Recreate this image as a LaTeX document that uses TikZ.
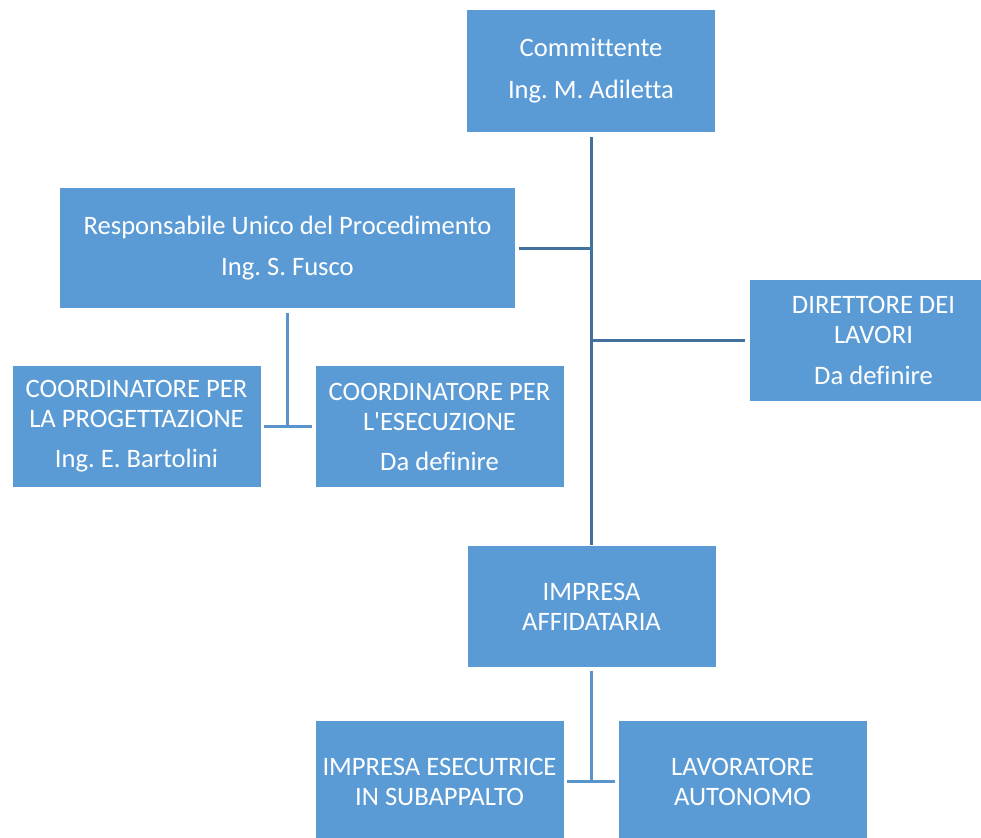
\documentclass[tikz,border=0pt]{standalone}
\usepackage{fontspec}
\setmainfont{Carlito}[Ligatures={NoCommon}]
\frenchspacing
\definecolor{boxblue}{HTML}{5B9BD5}
\definecolor{linedark}{HTML}{41719C}
\definecolor{linelight}{HTML}{5A94CC}
\begin{document}
\begin{tikzpicture}[x=1pt,y=-1pt,
  orgbox/.style={fill=boxblue, draw=none, text=white, align=center, inner sep=0pt,
    minimum width=248pt, minimum height=122pt, font=\fontsize{26.6}{30}\selectfont\frenchspacing},
  mainline/.style={draw=linedark, line width=3pt},
  subline/.style={draw=linelight, line width=3pt}]
\useasboundingbox (0,0) rectangle (981,837);
\clip (0,0) rectangle (981,837);
\node[orgbox] (c) at (591,71) {Committente\\[12pt]Ing. M. Adiletta};
\node[orgbox, minimum width=455pt, minimum height=120pt] (rup) at (287.5,248) {Responsabile Unico del Procedimento\\[11pt]Ing. S. Fusco};
\node[orgbox, minimum height=121pt] (dl) at (873.5,340.5) {DIRETTORE DEI\\LAVORI\\[11pt]Da definire};
\node[orgbox, minimum height=121pt] (cp) at (136.5,426.5) {COORDINATORE PER\\LA PROGETTAZIONE\\[10pt]Ing. E. Bartolini};
\node[orgbox, minimum height=121pt] (ce) at (439.5,426.5) {COORDINATORE PER\\L\textquotesingle ESECUZIONE\\[10pt]Da definire};
\node[orgbox, minimum height=121pt] (ia) at (591.5,606.5) {IMPRESA\\AFFIDATARIA};
\node[orgbox, minimum height=121pt] (ie) at (439.5,781.5) {IMPRESA ESECUTRICE\\IN SUBAPPALTO};
\node[orgbox, minimum height=121pt] (lav) at (742.5,781.5) {LAVORATORE\\AUTONOMO};
% main trunk
\draw[mainline, shorten <=5pt, shorten >=1pt] (c.south) -- (c.south |- ia.north);
\draw[mainline, shorten <=4pt] (rup.east) -- (rup.east -| c.south);
\draw[mainline, shorten >=4pt] (dl.west -| c.south) -- (dl.west);
% RUP to coordinators
\draw[subline, shorten <=5pt] (rup.south) -- (rup.south |- cp.east);
\draw[subline, shorten <=3pt, shorten >=3pt] (cp.east) -- (ce.west);
% affidataria to subcontractors
\draw[subline, shorten <=4pt] (ia.south) -- (ia.south |- ie.east);
\draw[subline, shorten <=3pt, shorten >=3pt] (ie.east) -- (lav.west);
\end{tikzpicture}
\end{document}
